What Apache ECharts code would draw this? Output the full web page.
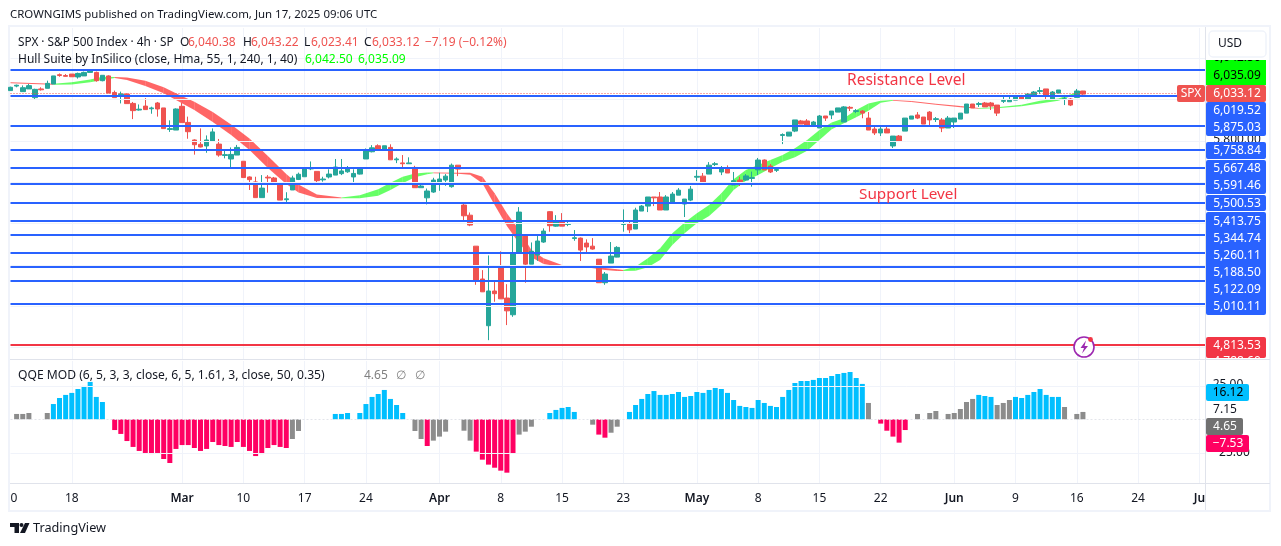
<!DOCTYPE html>
<html><head><meta charset="utf-8">
<style>html,body{margin:0;padding:0;background:#fff}#c{width:1281px;height:546px}</style>
<script src="https://cdn.jsdelivr.net/npm/echarts@6/dist/echarts.min.js"></script>
</head><body><div id="c"></div>
<script>
// ---- candles (4h bars)
const opens=[6043,6065,6038,6051,6009,6051,6054,6075,6120,6116,
6123,6109,6114,6131,6131,6091,6114,6034,6023,6026,
5981,5949,5968,5955,5983,5959,5855,5852,5967,5889,
5804,5783,5775,5797,5784,5729,5712,5731,5701,5625,
5601,5525,5624,5620,5591,5515,5562,5613,5626,5664,
5652,5611,5625,5634,5641,5650,5625,5639,5712,5747,
5776,5760,5768,5708,5693,5689,5671,5573,5524,5552,
5589,5610,5578,5682,5489,5440,5290,5131,4905,5073,
5194,5039,4958,5258,5339,5203,5247,5310,5457,5387,
5411,5395,5327,5329,5305,5290,5227,5113,5208,5237,
5395,5397,5373,5460,5484,5528,5528,5465,5498,5537,
5494,5513,5624,5629,5639,5685,5649,5668,5586,5610,
5610,5618,5659,5707,5678,5657,5826,5823,5847,5896,
5896,5872,5862,5920,5925,5939,5891,5962,5942,5944,
5910,5857,5838,5857,5775,5823,5847,5905,5925,5915,
5939,5903,5901,5862,5891,5905,5934,5978,5976,5983,
5983,5973,5991,5989,5997,6017,6002,6017,6039,6051,
6002,6031,6000,6002,6010,6041];
const closes=[6059,6069,6057,6067,6049,6047,6078,6114,6116,6112,
6110,6126,6131,6141,6091,6117,6031,6009,6027,5980,
5946,5953,5951,5959,5954,5859,5859,5954,5888,5844,
5781,5770,5804,5843,5731,5733,5734,5768,5622,5612,
5525,5571,5620,5591,5513,5519,5620,5638,5665,5668,
5607,5615,5639,5673,5654,5665,5642,5668,5752,5766,
5760,5776,5708,5712,5689,5693,5573,5581,5557,5610,
5615,5629,5682,5663,5437,5392,5126,5069,5073,5060,
5035,4977,5258,5455,5203,5265,5315,5363,5389,5407,
5387,5399,5331,5271,5286,5276,5113,5155,5242,5284,
5399,5369,5465,5484,5528,5524,5465,5528,5542,5561,
5518,5566,5628,5600,5682,5689,5667,5644,5607,5601,
5630,5622,5707,5659,5649,5661,5830,5842,5901,5881,
5872,5891,5920,5910,5944,5959,5964,5958,5946,5934,
5852,5838,5857,5838,5823,5799,5910,5920,5910,5881,
5901,5907,5862,5910,5910,5934,5978,5959,5980,5964,
5968,5934,5995,5997,6017,6002,6026,6036,6043,6017,
6036,6046,6004,5973,6041,6026];
const lows=[6043,6059,6038,6051,6002,6043,6054,6075,6110,6110,
6110,6101,6114,6130,6086,6088,6031,6009,5981,5980,
5905,5946,5951,5931,5917,5859,5843,5852,5888,5810,
5733,5768,5742,5796,5723,5715,5667,5731,5622,5562,
5525,5525,5549,5588,5513,5504,5562,5610,5625,5658,
5594,5602,5618,5634,5634,5645,5600,5637,5712,5744,
5760,5760,5707,5692,5673,5689,5573,5573,5492,5548,
5558,5582,5573,5629,5416,5387,5103,5068,4835,5021,
5034,4908,4948,5255,5113,5203,5219,5306,5360,5384,
5387,5387,5316,5218,5253,5273,5113,5103,5208,5236,
5360,5353,5373,5460,5455,5484,5465,5465,5498,5537,
5431,5508,5605,5595,5639,5678,5634,5644,5586,5581,
5607,5578,5634,5659,5644,5649,5784,5823,5842,5881,
5872,5872,5862,5896,5905,5939,5891,5944,5934,5909,
5852,5828,5823,5838,5765,5794,5847,5905,5905,5881,
5872,5891,5842,5862,5862,5905,5934,5959,5964,5964,
5949,5920,5983,5989,5997,6002,5997,6017,6026,6002,
6002,6031,5973,5968,6010,6022];
const highs=[6062,6072,6068,6075,6052,6059,6091,6114,6126,6123,
6123,6130,6135,6146,6135,6117,6117,6043,6038,6030,
5988,5976,6007,5965,5988,5959,5899,5957,5984,5917,
5807,5860,5826,5860,5809,5755,5768,5780,5701,5628,
5626,5634,5634,5625,5592,5551,5631,5646,5671,5700,
5652,5626,5662,5712,5712,5678,5662,5671,5763,5779,
5783,5776,5783,5720,5731,5720,5679,5589,5569,5621,
5645,5639,5690,5682,5497,5453,5290,5174,5245,5121,
5265,5106,5348,5479,5342,5308,5339,5376,5460,5440,
5450,5408,5368,5332,5323,5329,5227,5165,5310,5290,
5468,5407,5476,5489,5528,5528,5552,5537,5552,5571,
5518,5581,5658,5644,5697,5697,5678,5681,5649,5626,
5639,5651,5717,5710,5688,5668,5836,5842,5901,5901,
5905,5896,5925,5920,5944,5959,5968,5968,5954,5949,
5939,5876,5867,5872,5823,5828,5910,5920,5939,5915,
5944,5915,5910,5920,5910,5934,5978,5978,5988,5988,
5988,5973,6012,6012,6017,6022,6031,6041,6060,6051,
6041,6046,6022,6007,6051,6041];

// ---- time axis
const barSlots=196;
const dateTickIdx=[0,10,28,38,48,58,70,80,90,100,112,122,132,142,154,164,174,184,194];
const dateTickText=['0','18','Mar','10','17','24','Apr','8','15','23','May','8','15','22','Jun','9','16','24','Ju'];
const monthText=['Mar','Apr','May','Jun','Ju'];

// ---- horizontal levels
const blueLevels=[6143,6019.52,5875.03,5758.84,5667.48,5591.46,5500.53,5413.75,5344.74,5260.11,5188.50,5122.09,5010.11];
const redLevels=[4813.53];
const lastPrice=6028;
const priceGrid=[5000,5200,5400,5600,5800,6000,6200,4800];

// ---- Hull ribbon samples: bar index, edges, and trend of the segment that starts there (1 green, 0 red)
const hullIdx=[0,7,10,13,15,17,19,22,25,27,30,33,36,39,42,45,47,50,54,57,60,62,64,66,68,69,73,75,77,79,81,83,85,87,90,91,94,97,99,100,102,104,106,108,110,112,114,116,118,120,122,124,126,128,130,132,134,136,138,140,142,144,147,151,155,158,161,165,168,171,174,175];
const hullHi=[6084,6076,6084,6097,6110,6109,6107,6091,6059,6030,5989,5939,5879,5811,5726,5639,5588,5540,5526,5536,5565,5597,5626,5642,5647,5647,5645,5645,5626,5546,5449,5368,5271,5231,5199,5194,5192,5184,5178,5175,5191,5231,5280,5352,5404,5449,5489,5546,5614,5659,5683,5707,5731,5764,5804,5852,5888,5909,5949,5981,5994,5997,5993,5979,5968,5959,5963,5975,5994,6005,6035,6042];
const hullLo=[6078,6071,6073,6084,6094,6104,6094,6065,6030,5997,5949,5891,5828,5755,5668,5591,5550,5523,5522,5522,5534,5562,5594,5623,5638,5643,5641,5636,5594,5489,5388,5304,5236,5204,5189,5188,5188,5175,5170,5170,5171,5188,5223,5296,5352,5401,5436,5489,5562,5607,5634,5667,5699,5720,5752,5804,5856,5885,5914,5946,5984,5994,5988,5975,5962,5955,5957,5967,5981,5994,6026,6035];
const hullTrend=[0,1,1,1,1,0,0,0,0,0,0,0,0,0,0,0,0,0,1,1,1,1,1,1,1,0,0,0,0,0,0,0,0,0,0,1,0,0,0,1,1,1,1,1,1,1,1,1,1,1,1,1,1,1,1,1,1,1,1,1,1,0,0,0,0,1,1,1,1,1,1,1];

// ---- QQE MOD histogram
const qqeValues=[null,4,4,4.7,null,null,4.7,11.4,15.9,18.2,
19.7,22.6,24.9,27.9,16.7,12.9,null,-8,-10.9,-16.2,
-20.6,-23.6,-25.1,-25.9,-25.1,-29.6,-32.6,-22.1,-19.2,-19.2,
-21.4,-23.6,-22.1,-16.9,-19.2,-19.9,-20.6,-16.9,-20.6,-23.6,
-27.4,-25.9,-21.4,-19.2,-20.6,-21.4,-14.7,-8.7,null,null,
null,null,null,4,4,4.7,null,4.7,11.4,16.7,
18.9,21.9,15.2,10.7,4.7,null,-8.7,-14.7,-19.9,-15.9,
-12.9,-9.2,null,null,-8.5,-15.9,-24.1,-30.1,-33.8,-36.1,
-38.3,-39.8,-25.6,-11.4,-9.2,-5.5,null,null,4.7,7,
8.5,9.2,5.5,null,null,-4,-11.4,-13.7,-10,-5.5,
null,5.5,10.7,15.2,18.9,21.1,18.2,18.2,18.9,20.4,
16.7,17.4,20.4,19.7,21.9,23.4,22.6,19.7,14.4,10,
9.2,8.5,14.4,12.2,10,9.2,16.7,21.9,27.1,28.6,
28.6,29.4,30.8,30.8,32.3,33.8,34.6,35.3,30.8,26.4,
12.2,null,-3.2,-8.5,-12.9,-17.4,-8,null,4,null,
4.7,6.2,null,4,4.7,7.7,12.9,15.2,18.2,17.4,
16.7,10.7,12.2,14.4,16.7,15.9,18.2,20.4,22.6,18.2,
16.7,16.7,9.2,null,4,5.5];
const qqeBlueRuns=[[7,15],[53,64],[88,92],[101,139],[158,160],[164,171]];
const qqePinkRuns=[[17,45],[68,68],[76,82],[96,97],[142,146]];

// ---- texts
const headerText='CROWNGIMS published on TradingView.com, Jun 17, 2025 09:06 UTC';
const symbolText='SPX · S&P 500 Index · 4h · SP';
const ohlcLetters=['O','H','L','C'];
const ohlcText=['6,040.38','6,043.22','6,023.41','6,033.12'];
const changeText='−7.19 (−0.12%)';
const hullText='Hull Suite by InSilico (close, Hma, 55, 1, 240, 1, 40)';
const hullValueText=['6,042.50','6,035.09'];
const qqeText='QQE MOD (6, 5, 3, 3, close, 6, 5, 1.61, 3, close, 50, 0.35)';
const qqeValueText=['4.65','∅','∅'];

const FONT='"Noto Sans",sans-serif';
const INK='#131722', UP='#26a69a', DOWN='#ef5350', BLUE='#2962ff', RED='#f23645', GRID='#f0f3fa', EDGE='#e0e3eb';

const categories=new Array(barSlots).fill('');
dateTickIdx.forEach((idx,k)=>{categories[idx]=dateTickText[k];});
const gridTickSet=new Set(dateTickIdx.slice(1));

const inRuns=(runs,i)=>runs.some(r=>i>=r[0]&&i<=r[1]);
const qqeColor=i=>inRuns(qqeBlueRuns,i)?'#00bfff':inRuns(qqePinkRuns,i)?'#ff0062':'#8c8c8c';

const candleData=opens.map((o,i)=>[o,closes[i],lows[i],highs[i]]);
const ribbonData=hullIdx.slice(0,-1).map((idx,k)=>[idx,hullHi[k],hullLo[k],hullIdx[k+1],hullHi[k+1],hullLo[k+1],hullTrend[k]]);

function txt(x,y,text,fill,size,extra){
  return Object.assign({type:'text',x:x,y:y+1,z:100,silent:true,
    style:{text:text,fill:fill,font:(size||12)+'px '+FONT,textAlign:'left',textVerticalAlign:'middle'}},extra||{});
}
function box(x,y,w,h,fill,r,extra){
  return Object.assign({type:'rect',z:100,silent:true,shape:{x:x,y:y,width:w,height:h,r:r==null?2:r},style:{fill:fill}},extra||{});
}
function line(x1,y1,x2,y2,color,w){
  return {type:'line',z:100,silent:true,shape:{x1:x1,y1:y1,x2:x2,y2:y2},style:{stroke:color,lineWidth:w||1}};
}
const RX=1206, RW=60;
const tag=(t,y,fill)=>{const e=txt(RX+31,y,t,fill,12);e.style.textAlign='center';return e;};

const g=[];
// frame and pane separators
g.push({type:'rect',z:1,silent:true,shape:{x:9,y:26,width:1261,height:485},style:{fill:'none',stroke:GRID,lineWidth:2}});
g.push(line(10,359.5,1270,359.5,EDGE));
g.push(line(10,483.5,1270,483.5,EDGE));
g.push(line(1205.5,27,1205.5,510,EDGE));
// header + legends
g.push(txt(10,14,headerText,INK,11.45));
g.push(txt(18,42,symbolText,INK,11.8));
[[180,188],[243,251],[304,311],[364,372]].forEach((p,k)=>{
  g.push(txt(p[0],42,ohlcLetters[k],INK,12));
  g.push(txt(p[1],42,ohlcText[k],DOWN,12));
});
g.push(txt(425,42,changeText,DOWN,12));
g.push(txt(18,59,hullText,INK,12));
g.push(txt(305,59,hullValueText[0],'#00ff00',12));
g.push(txt(358,59,hullValueText[1],'#00ff00',12));
g.push(txt(18,375,qqeText,INK,12.1));
g.push(txt(364,375,qqeValueText[0],'#808080',12));
g.push(txt(396,375,qqeValueText[1],'#808080',12));
g.push(txt(415,375,qqeValueText[2],'#808080',12));
// annotation texts
g.push(txt(847,79.5,'Resistance Level',RED,15.5));
g.push(txt(859,194,'Support Level',RED,15.3));
// right-hand price scale
g.push(tag('5,800.00',139,INK));
g.push(box(RX,60,RW,25,'#00ff00',0));
g.push(tag('6,042.50',57,'#000'));
g.push(box(RX,48,RW,12,'#fff',0));
g.push(tag('6,035.09',75,'#000'));
g.push(box(RX,85,RW,17,DOWN));
g.push(tag('6,033.12',92.5,'#fff'));
g.push(box(1177,85,28,17,DOWN));
const spx=txt(1191,92.5,'SPX','#fff',12); spx.style.textAlign='center'; g.push(spx);
g.push(box(RX,102,RW,34,BLUE));
g.push(tag('6,019.52',109.5,'#fff'));
g.push(tag('5,875.03',126.5,'#fff'));
g.push(box(RX,142,RW,17,BLUE));
g.push(tag('5,758.84',150,'#fff'));
g.push(box(RX,160,RW,34,BLUE));
g.push(tag('5,667.48',167.5,'#fff'));
g.push(tag('5,591.46',184.5,'#fff'));
g.push(box(RX,195,RW,16,BLUE));
g.push(tag('5,500.53',202.5,'#fff'));
g.push(box(RX,212,RW,103,BLUE));
[['5,413.75',220.5],['5,344.74',237.5],['5,260.11',254.5],['5,188.50',271.5],['5,122.09',288.5],['5,010.11',305.5]].forEach(a=>g.push(tag(a[0],a[1],'#fff')));
g.push(box(RX,337,RW,21,RED));
g.push(tag('4,813.53',344.5,'#fff'));
g.push(tag('4,788.60',361,'#fff'));
g.push(box(RX,358.6,RW,12,'#fff',0));
g.push(line(RX-0.5,359.5,1270,359.5,EDGE));
// USD button
g.push({type:'rect',z:100,silent:true,shape:{x:1209,y:31,width:57,height:26,r:4},style:{fill:'#fff',stroke:GRID,lineWidth:1.5}});
g.push(txt(1218,43,'USD',INK,12));
// QQE scale
const qqeTag=(x,t,y,fill)=>{const e=txt(x,y,t,fill,12);e.style.textAlign='center';return e;};
g.push(qqeTag(1228,'25.00',384,INK));
g.push(box(RX,384,43,17,'#00bfff'));
g.push(qqeTag(1228,'16.12',392,'#000'));
g.push(qqeTag(1225,'7.15',409,INK));
g.push(qqeTag(1231,'−25.00',452,INK));
g.push(box(RX,418,37,17,'#707070'));
g.push(qqeTag(1225,'4.65',426,'#fff'));
g.push(box(RX,435,43,17,'#ff0062'));
g.push(qqeTag(1228,'−7.53',443,'#fff'));
// lightning badge
g.push({type:'circle',z:101,silent:true,shape:{cx:1084,cy:347,r:10},style:{fill:'#fff',stroke:'#9c27b0',lineWidth:1.6}});
g.push({type:'polygon',z:102,silent:true,shape:{points:[[1086,340.5],[1080.5,348],[1084,348],[1082,353.5],[1088,346],[1084.5,346]]},style:{fill:'#9c27b0'}});
g.push({type:'circle',z:103,silent:true,shape:{cx:1090.5,cy:339.5,r:2.4},style:{fill:RED}});
// TradingView logo
g.push({type:'polygon',z:100,silent:true,shape:{points:[[10,523],[19,523],[19,533],[14.5,533],[14.5,527],[10,527]]},style:{fill:INK}});
g.push({type:'circle',z:100,silent:true,shape:{cx:21.5,cy:525,r:2},style:{fill:INK}});
g.push({type:'polygon',z:100,silent:true,shape:{points:[[25,523],[29.5,523],[25,533],[20,533]]},style:{fill:INK}});
g.push(txt(33,527.5,'TradingView',INK,12.7));

const option={
  animation:false,
  backgroundColor:'#fff',
  textStyle:{fontFamily:FONT},
  grid:[
    {left:10.5,width:1195,top:28,height:332,containLabel:false},
    {left:10.5,width:1195,top:361,height:122,containLabel:false}
  ],
  xAxis:[
    {type:'category',gridIndex:0,data:categories,boundaryGap:false,
     axisLine:{show:false},axisTick:{show:false},axisLabel:{show:false},
     splitLine:{show:true,interval:i=>gridTickSet.has(i),lineStyle:{color:GRID,width:1}}},
    {type:'category',gridIndex:1,data:categories,boundaryGap:false,
     axisLine:{show:false},axisTick:{show:false},
     axisLabel:{show:true,interval:(i,v)=>v!=='',color:INK,fontSize:12,margin:10,hideOverlap:false,fontFamily:FONT,alignMinLabel:'left',
       formatter:v=>monthText.includes(v)?'{m|'+v+'}':v,
       rich:{m:{fontWeight:600,fontSize:12,color:INK,fontFamily:FONT}}},
     splitLine:{show:true,interval:i=>gridTickSet.has(i),lineStyle:{color:GRID,width:1}}}
  ],
  yAxis:[
    {type:'value',gridIndex:0,min:4739,max:6346,show:false,splitLine:{show:false}},
    {type:'value',gridIndex:1,min:-47.5,max:43.5,show:false,splitLine:{show:false}}
  ],
  graphic:{elements:g},
  series:[
    {type:'line',name:'priceGrid',xAxisIndex:0,yAxisIndex:0,data:[],z:1,silent:true,
     markLine:{silent:true,symbol:'none',animation:false,label:{show:false},
       lineStyle:{color:GRID,width:1,type:'solid'},data:priceGrid.map(v=>({yAxis:v}))}},
    {type:'line',name:'levels',xAxisIndex:0,yAxisIndex:0,data:[],z:2,silent:true,
     markLine:{silent:true,symbol:'none',animation:false,label:{show:false},
       data:blueLevels.map(v=>({yAxis:v,lineStyle:{color:BLUE,width:2,type:'solid'}}))
         .concat(redLevels.map(v=>({yAxis:v,lineStyle:{color:RED,width:2,type:'solid'}})))
         .concat([{yAxis:lastPrice,lineStyle:{color:DOWN,width:1,type:[1,2]}}])}},
    {type:'custom',name:'Hull',xAxisIndex:0,yAxisIndex:0,z:3,silent:true,clip:true,
     data:ribbonData,
     renderItem:(params,api)=>{
       const a=api.coord([api.value(0),api.value(1)]),b=api.coord([api.value(3),api.value(4)]),
             c=api.coord([api.value(3),api.value(5)]),d=api.coord([api.value(0),api.value(2)]);
       return {type:'polygon',shape:{points:[a,b,c,d]},
         style:{fill:api.value(6)?'rgba(0,255,0,0.6)':'rgba(255,0,0,0.6)',stroke:'none'}};
     }},
    {type:'candlestick',name:'SPX',xAxisIndex:0,yAxisIndex:0,z:4,silent:true,barWidth:5,
     data:candleData,
     itemStyle:{color:UP,color0:DOWN,borderColor:UP,borderColor0:DOWN,borderWidth:1}},
    {type:'bar',name:'QQE',xAxisIndex:1,yAxisIndex:1,z:3,silent:true,barWidth:5,barGap:'-100%',
     data:qqeValues.map((v,i)=>v==null?'-':{value:v,itemStyle:{color:qqeColor(i)}}),
     markLine:{silent:true,symbol:'none',animation:false,label:{show:false},
       data:[{yAxis:0,lineStyle:{color:'#e3e5ea',width:1,type:[2,2]}},
             {yAxis:25,lineStyle:{color:GRID,width:1,type:'solid'}},
             {yAxis:-25,lineStyle:{color:GRID,width:1,type:'solid'}}]}}
  ]
};
const chart=echarts.init(document.getElementById('c'),null,{renderer:'canvas'});
chart.setOption(option);
</script></body></html>
